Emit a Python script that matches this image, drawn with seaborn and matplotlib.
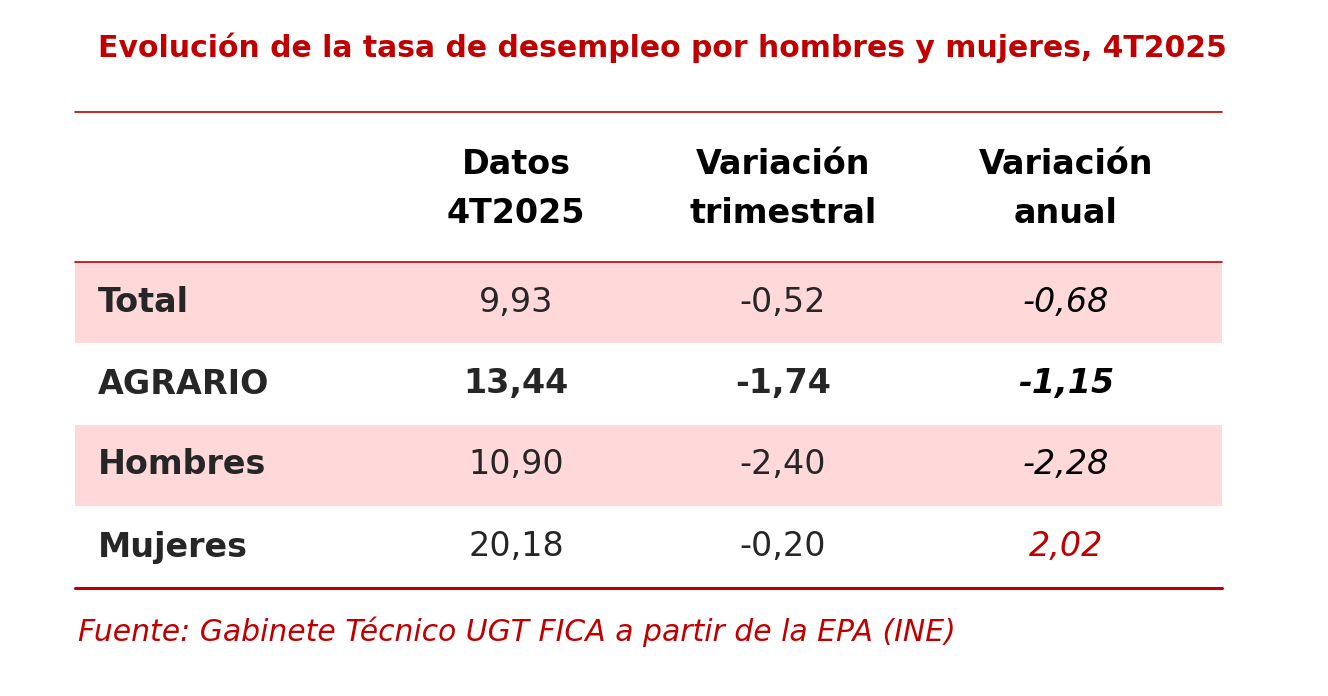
import matplotlib
matplotlib.use("Agg")
import matplotlib.pyplot as plt
import seaborn as sns
import numpy as np
from matplotlib.colors import ListedColormap

title = "Evolución de la tasa de desempleo por hombres y mujeres, 4T2025"
headers = ["Datos\n4T2025", "Variación\ntrimestral", "Variación\nanual"]
rows = ["Total", "AGRARIO", "Hombres", "Mujeres"]
datos = ["9,93", "13,44", "10,90", "20,18"]
trim = ["-0,52", "-1,74", "-2,40", "-0,20"]
anual = ["-0,68", "-1,15", "-2,28", "2,02"]
source = "Fuente: Gabinete Técnico UGT FICA a partir de la EPA (INE)"

sns.set_theme(style="white")
plt.rcParams['font.family'] = ['DejaVu Sans']
RED = "#C00000"
W, H = 1328, 696
fig = plt.figure(figsize=(W/100, H/100), dpi=100)

bx0, bx1, by0, by1 = 75, 1222, 262, 587
axb = fig.add_axes([bx0/W, 1-by1/H, (bx1-bx0)/W, (by1-by0)/H])
shade = np.array([[1], [0], [1], [0]])
sns.heatmap(shade, ax=axb, cmap=ListedColormap(["white", "#FFD9D9"]), cbar=False,
            xticklabels=False, yticklabels=False, linewidths=0)
axb.axis("off")

ax = fig.add_axes([0, 0, 1, 1])
ax.set_xlim(0, W); ax.set_ylim(H, 0); ax.axis("off")
ax.patch.set_alpha(0)

ax.text(662, 48, title, ha="center", va="center", color=RED, fontsize=21.5, fontweight="bold")
ax.plot([75, 1222], [112, 112], color=RED, lw=1.2)
ax.plot([75, 1222], [262, 262], color=RED, lw=1.2)
ax.plot([75, 1222], [588, 588], color=RED, lw=2.2)

cols = [516, 783, 1066]
for x, h in zip(cols, headers):
    ax.text(x, 189, h, ha="center", va="center", fontsize=24, fontweight="bold",
            color="black", linespacing=1.6)

ys = [303, 384, 465, 547]
for i, (r, y) in enumerate(zip(rows, ys)):
    bold = (r == "AGRARIO")
    ax.text(98, y, r, ha="left", va="center", fontsize=24, fontweight="bold")
    fw = "bold" if bold else "normal"
    ax.text(cols[0], y, datos[i], ha="center", va="center", fontsize=24, fontweight=fw)
    ax.text(cols[1], y, trim[i], ha="center", va="center", fontsize=24, fontweight=fw)
    c = RED if not anual[i].startswith("-") else "black"
    ax.text(cols[2], y, anual[i], ha="center", va="center", fontsize=24, fontweight=fw,
            style="italic", color=c)

ax.text(78, 632, source, ha="left", va="center", fontsize=21.5, style="italic", color=RED)
fig.savefig("out.png", dpi=100)
